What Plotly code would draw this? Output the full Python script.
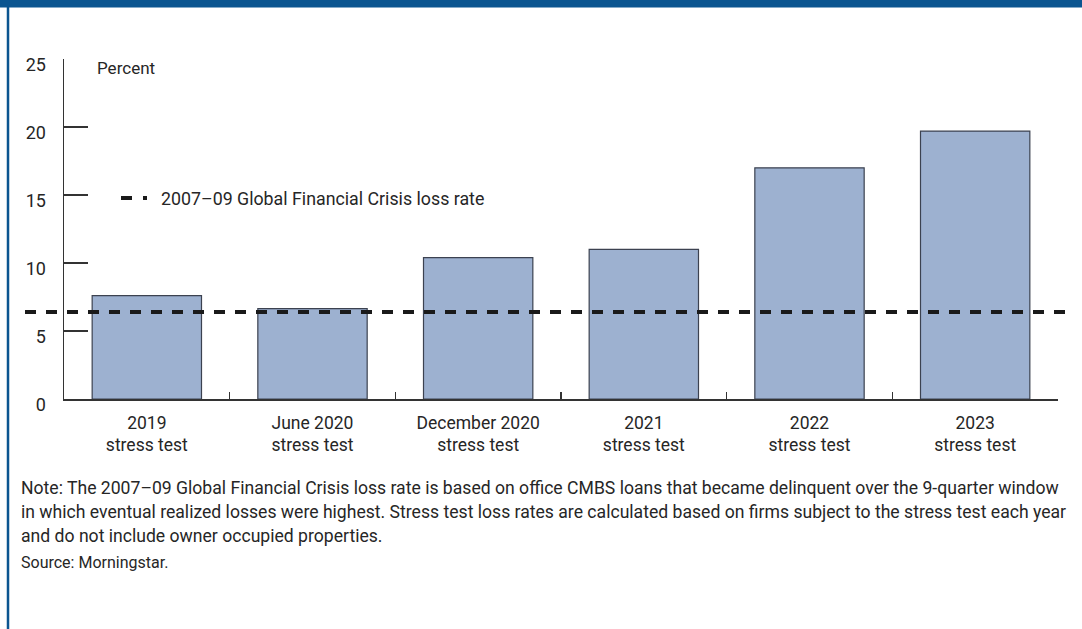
import plotly.graph_objects as go

# ---- data ----
categories = ["2019<br>stress test", "June 2020<br>stress test", "December 2020<br>stress test",
              "2021<br>stress test", "2022<br>stress test", "2023<br>stress test"]
loss_rates = [7.6, 6.65, 10.4, 11.0, 17.0, 19.7]
gfc_loss_rate = 6.4
y_ticks = [0, 5, 10, 15, 20, 25]
legend_label = "2007\u201309 Global Financial Crisis loss rate"
note_lines = [
    "Note: The 2007\u201309 Global Financial Crisis loss rate is based on office CMBS loans that became delinquent over the 9-quarter window",
    "in which eventual realized losses were highest. Stress test loss rates are calculated based on firms subject to the stress test each year",
    "and do not include owner occupied properties.",
]
source_text = "Source: Morningstar."

W, H = 1082, 629
L, R, T, B = 64, 24, 59, 230
PW, PH = W - L - R, H - T - B
FONT = "Roboto, Liberation Sans, sans-serif"
FRAME = "#0B5590"
TXT = "#262626"

def px(x):
    return (x - L) / PW

def py(y):
    return (H - B - y) / PH

fig = go.Figure()
fig.add_trace(go.Bar(
    x=categories, y=loss_rates,
    marker=dict(color="#9DB1D0", line=dict(color="#3C4250", width=1.2)),
    showlegend=False, hoverinfo="skip",
))

shapes = [
    # top band
    dict(type="rect", xref="paper", yref="paper", x0=px(0), x1=px(W), y0=py(-1), y1=py(7.5),
         fillcolor=FRAME, line=dict(width=0), layer="above"),
    # left border
    dict(type="line", xref="paper", yref="paper", x0=px(8), x1=px(8), y0=py(7), y1=py(H),
         line=dict(color=FRAME, width=2.5)),
    # GFC reference line
    dict(type="line", xref="paper", yref="y", x0=px(25), x1=px(1072), y0=gfc_loss_rate, y1=gfc_loss_rate,
         line=dict(color="#1A1A1A", width=4, dash="11px,10px"), layer="above"),
    # legend sample
    dict(type="line", xref="paper", yref="paper", x0=px(121), x1=px(147), y0=py(198), y1=py(198),
         line=dict(color="#1A1A1A", width=4, dash="11px,11px")),
]

annotations = [
    dict(text="Percent", xref="paper", yref="paper", x=px(95), y=py(68), xanchor="left", yanchor="middle",
         showarrow=False, font=dict(family=FONT, size=17, color=TXT)),
    dict(text=legend_label, xref="paper", yref="paper", x=px(159), y=py(198), xanchor="left", yanchor="middle",
         showarrow=False, font=dict(family=FONT, size=17.8, color=TXT)),
    dict(text=source_text, xref="paper", yref="paper", x=px(19), y=py(562), xanchor="left", yanchor="middle",
         align="left", showarrow=False, font=dict(family=FONT, size=16, color=TXT)),
]
for i, line in enumerate(note_lines):
    annotations.append(dict(text=line, xref="paper", yref="paper", x=px(19), y=py(488 + 24 * i),
                            xanchor="left", yanchor="middle", align="left", showarrow=False,
                            font=dict(family=FONT, size=17.6, color=TXT)))

fig.update_layout(
    width=W, height=H,
    margin=dict(l=L, r=R, t=T, b=B, pad=0),
    paper_bgcolor="white", plot_bgcolor="white",
    bargap=0.34,
    shapes=shapes, annotations=annotations,
    font=dict(family=FONT, size=17, color=TXT),
    xaxis=dict(type="category", showline=True, linecolor="#333", linewidth=1.5,
               ticks="inside", tickson="boundaries", ticklen=7, tickcolor="#333", tickwidth=1.2,
               showgrid=False, zeroline=False, ticklabelstandoff=7,
               tickfont=dict(family=FONT, size=17.5, color=TXT)),
    yaxis=dict(range=[0, 25], tickvals=y_ticks, showline=True, linecolor="#333", linewidth=1.5,
               ticks="inside", ticklen=24, tickcolor="#333", tickwidth=1.2,
               showgrid=False, zeroline=False, ticklabelstandoff=13, ticklabelshift=6,
               tickfont=dict(family=FONT, size=18, color=TXT)),
)

fig.write_html("out.html", config={"displayModeBar": False, "staticPlot": True},
               post_script="document.body.style.margin='0';document.body.style.padding='0';")
